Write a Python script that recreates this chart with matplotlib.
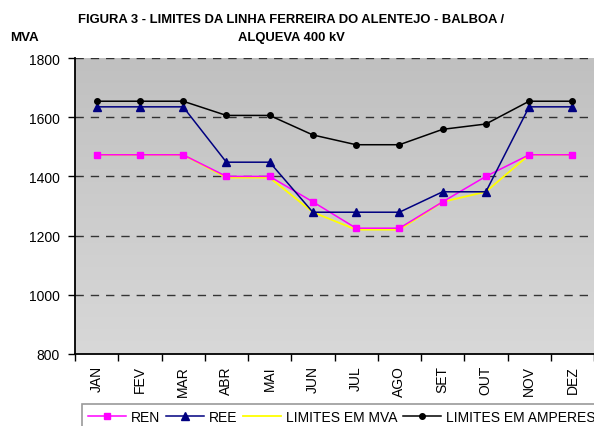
import numpy as np
import matplotlib.pyplot as plt

#---
#       DATA
#---
meses = ['JAN', 'FEV', 'MAR', 'ABR', 'MAI', 'JUN', 'JUL', 'AGO', 'SET', 'OUT', 'NOV', 'DEZ']
ren = [1473, 1473, 1473, 1400, 1400, 1314, 1225, 1225, 1314, 1400, 1473, 1473]
ree = [1635, 1635, 1635, 1448, 1448, 1279, 1279, 1279, 1348, 1348, 1635, 1635]
lim_mva = [1473, 1473, 1473, 1396, 1396, 1279, 1220, 1220, 1314, 1348, 1473, 1473]
lim_amp = [1654, 1654, 1654, 1606, 1606, 1540, 1507, 1507, 1559, 1577, 1654, 1654]

plt.rcParams['font.family'] = ['Liberation Sans', 'DejaVu Sans']

fig = plt.figure(figsize=(5.94, 4.27), dpi=100)
fig.set_facecolor('white')
ax = fig.add_axes([75/594, 72/427, 1 - 75/594, (355-59)/427])

# degrade cinzento do fundo
grad = np.linspace(0, 1, 256).reshape(-1, 1)
ax.imshow(grad, extent=[0, 1, 0, 1], transform=ax.transAxes, aspect='auto',
          cmap=plt.matplotlib.colors.LinearSegmentedColormap.from_list('g', ['#c0c0c0', '#d8d8d8']),
          zorder=0)

x = np.arange(len(meses))
ax.plot(x, ren, '-s', color='#ff00ff', lw=1.1, ms=5, zorder=3, label='REN')
ax.plot(x, ree, '-^', color='#000080', lw=1.1, ms=6, zorder=3, label='REE')
ax.plot(x, lim_mva, '-', color='#ffff00', lw=1.3, zorder=2, label='LIMITES EM MVA')
ax.plot(x, lim_amp, '-o', color='black', lw=1.1, ms=4, zorder=3, label='LIMITES EM AMPERES')

ax.set_xlim(-0.5, 11.5)
ax.set_ylim(800, 1800)
ax.set_yticks([800, 1000, 1200, 1400, 1600, 1800])
for v in [1000, 1200, 1400, 1600, 1800]:
    ax.axhline(v, color='black', lw=1, dashes=(6, 5), alpha=0.75, zorder=1)

ax.set_xticks(x)
ax.set_xticklabels(meses, rotation=90, fontsize=10)
ax.set_xticks(np.arange(-0.5, 12, 1), minor=True)
ax.tick_params(axis='x', which='major', length=0, pad=8)
ax.tick_params(axis='x', which='minor', length=5, width=1, direction='out')
ax.tick_params(axis='y', length=5, width=1, labelsize=10, pad=6)
for s in ['top', 'right']:
    ax.spines[s].set_visible(False)
for s in ['left', 'bottom']:
    ax.spines[s].set_linewidth(1.3)

fig.text(291/594, 1 - 20/427, 'FIGURA 3 - LIMITES DA LINHA FERREIRA DO ALENTEJO - BALBOA /',
         ha='center', va='center', fontsize=9.4, fontweight='bold')
fig.text(291/594, 1 - 38/427, 'ALQUEVA 400 kV', ha='center', va='center',
         fontsize=9.4, fontweight='bold')
fig.text(10/594, 1 - 38/427, 'MVA', ha='left', va='center', fontsize=9.6, fontweight='bold')

leg = fig.legend(loc='upper left', bbox_to_anchor=(82/594, 1 - 405/427), ncol=4,
                 fontsize=10, frameon=True, fancybox=False, handlelength=2.7,
                 handletextpad=0.35, columnspacing=0.45, borderpad=0.45, borderaxespad=0)
leg.get_frame().set_edgecolor('#808080')
leg.get_frame().set_linewidth(1.2)

plt.savefig('out.png', dpi=100)
